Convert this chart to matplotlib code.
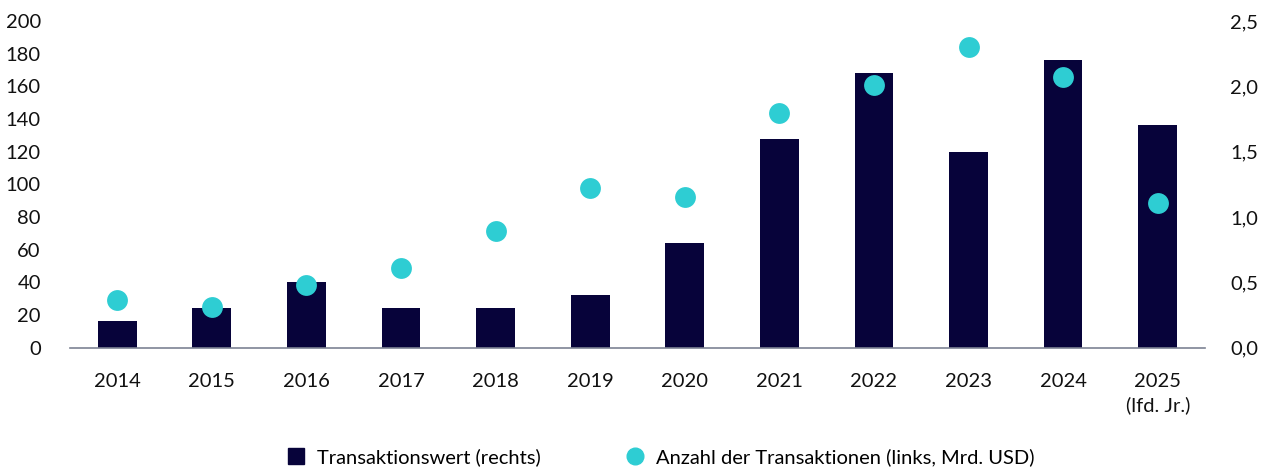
import matplotlib
matplotlib.use("Agg")
import matplotlib.pyplot as plt
from matplotlib.lines import Line2D
from matplotlib.ticker import FuncFormatter

years = ["2014", "2015", "2016", "2017", "2018", "2019", "2020", "2021",
         "2022", "2023", "2024", "2025\n(lfd. Jr.)"]
transaktionswert = [0.2, 0.3, 0.5, 0.3, 0.3, 0.4, 0.8, 1.6, 2.1, 1.5, 2.2, 1.7]
anzahl = [29, 25, 38, 48.5, 71.5, 98, 92, 143.5, 160.5, 184, 166, 88.5]

left_ticks = [0, 20, 40, 60, 80, 100, 120, 140, 160, 180, 200]
right_ticks = [0.0, 0.5, 1.0, 1.5, 2.0, 2.5]

NAVY = "#07033a"
TEAL = "#2ecdd3"
plt.rcParams['font.family'] = ['Lato', 'DejaVu Sans']
FS = 14.5

fig = plt.figure(figsize=(12.66, 4.71), dpi=100)
ax = fig.add_axes([0.0553, 0.2622, 0.8965, 0.6932])
ax2 = ax.twinx()

x = list(range(len(years)))
ax2.bar(x, transaktionswert, width=0.41, color=NAVY, zorder=2)
ax.scatter(x, anzahl, s=225, color=TEAL, zorder=3, linewidths=0)

ax.set_zorder(ax2.get_zorder() + 1)
ax.patch.set_visible(False)

ax.set_xlim(-0.5, 11.5)
ax.set_ylim(0, 200)
ax2.set_ylim(0, 2.5)
ax.set_yticks(left_ticks)
ax2.set_yticks(right_ticks)
ax2.yaxis.set_major_formatter(FuncFormatter(lambda v, p: f"{v:.1f}".replace(".", ",")))
ax.set_xticks(x)
ax.set_xticklabels(years, linespacing=1.45)

for a in (ax, ax2):
    for s in ("top", "left", "right", "bottom"):
        a.spines[s].set_visible(False)
    a.tick_params(length=0, labelsize=FS, colors="#111111")
ax.spines["bottom"].set_visible(True)
ax.spines["bottom"].set_color("#7d8393")
ax.spines["bottom"].set_linewidth(1.2)
ax.tick_params(axis="y", pad=21)
ax2.tick_params(axis="y", pad=18)
ax.tick_params(axis="x", pad=18)

handles = [
    Line2D([], [], marker="s", linestyle="none", color=NAVY, markersize=11),
    Line2D([], [], marker="o", linestyle="none", color=TEAL, markersize=12),
]
fig.legend(handles, ["Transaktionswert (rechts)", "Anzahl der Transaktionen (links, Mrd. USD)"],
           loc="center", bbox_to_anchor=(0.5215, 0.029), ncol=2, frameon=False,
           fontsize=FS, columnspacing=4.15, handletextpad=0.55, handlelength=1.0)

fig.savefig("out.png", dpi=100)
